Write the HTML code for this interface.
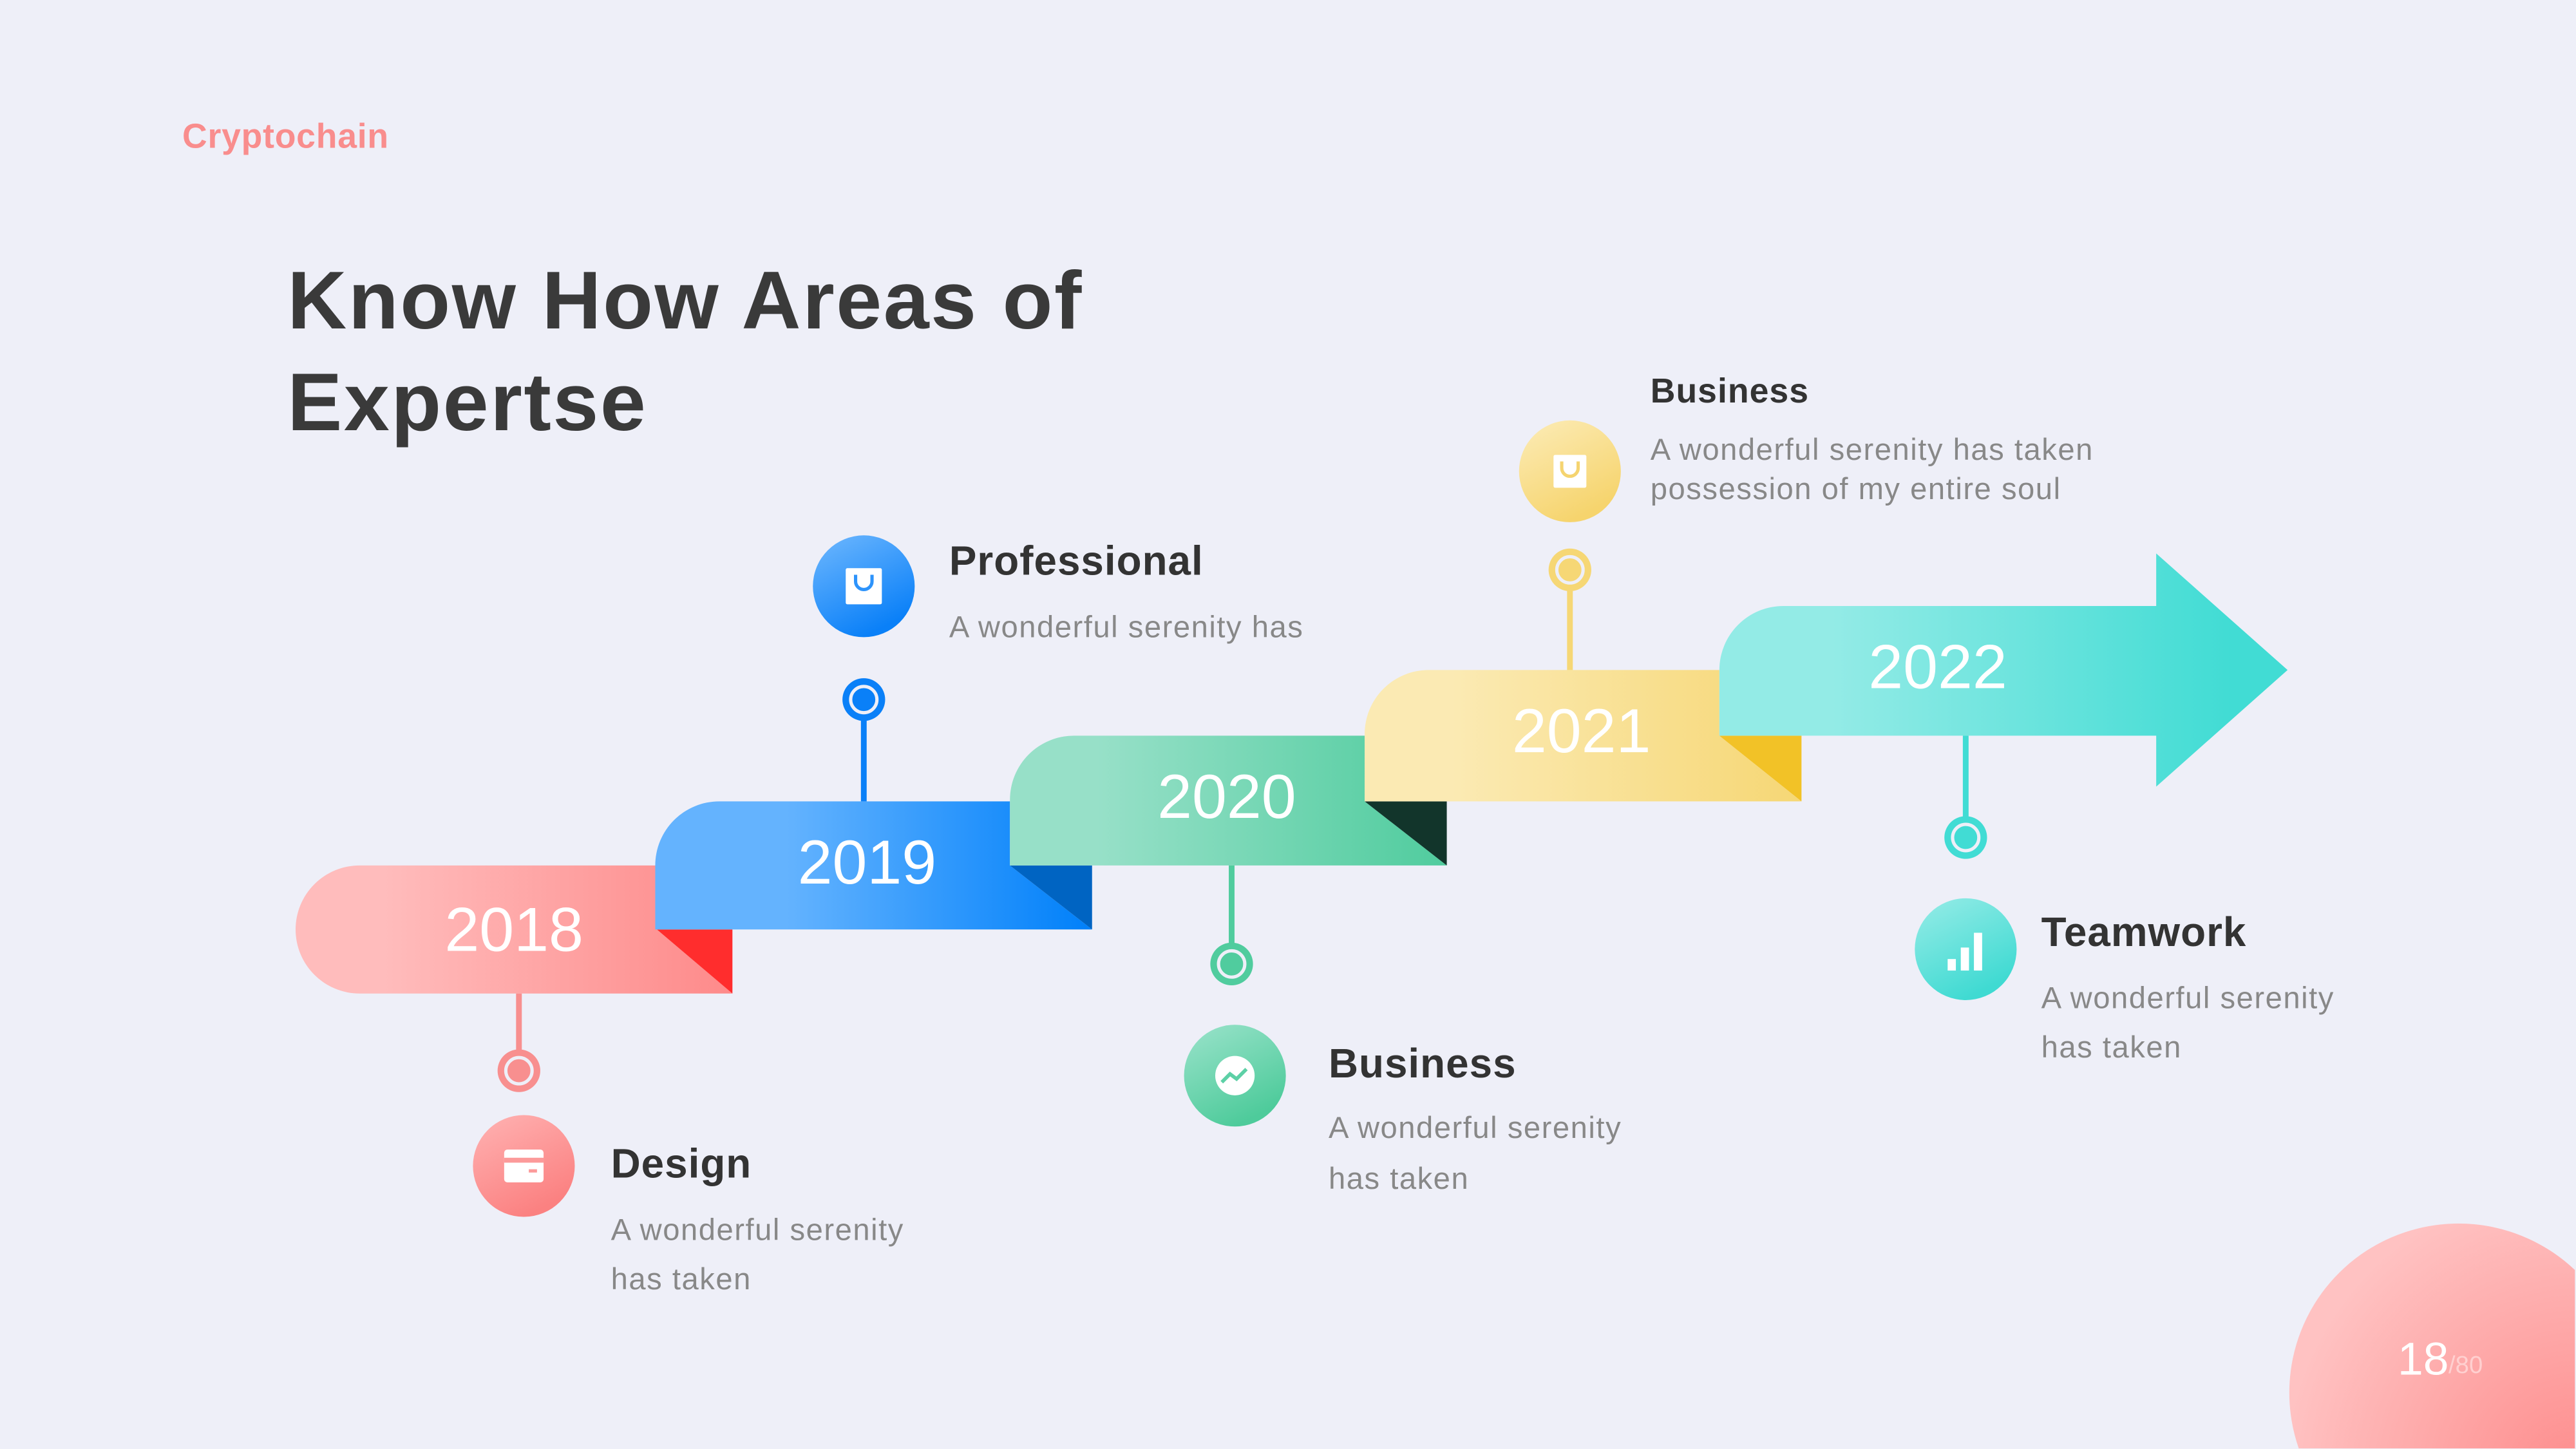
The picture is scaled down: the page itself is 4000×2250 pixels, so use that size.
<!DOCTYPE html>
<html><head><meta charset="utf-8"><style>
html,body{margin:0;padding:0;background:#eeeff8;width:4000px;height:2250px;overflow:hidden;}
#w{width:1568px;height:882px;transform:scale(2.55);transform-origin:0 0;position:absolute;left:0;top:0;overflow:hidden;}
svg{position:absolute;left:0;top:0;display:block}
</style></head><body><div id="w">
<svg width="1568" height="882" viewBox="0 0 1568 882" font-family="Liberation Sans, sans-serif">
<defs>
<linearGradient id="gp" x1="0" x2="1"><stop offset="0.2" stop-color="#ffbcbc"/><stop offset="1" stop-color="#fe8a8a"/></linearGradient>
<linearGradient id="gb" x1="0" x2="1"><stop offset="0.3" stop-color="#64b3fe"/><stop offset="1" stop-color="#0080fa"/></linearGradient>
<linearGradient id="gg" x1="0" x2="1"><stop offset="0.2" stop-color="#97e0c8"/><stop offset="1" stop-color="#50cc9e"/></linearGradient>
<linearGradient id="gy" x1="0" x2="1"><stop offset="0.2" stop-color="#fbeab3"/><stop offset="1" stop-color="#f6d775"/></linearGradient>
<linearGradient id="gt" x1="0" x2="1"><stop offset="0.2" stop-color="#93ebe6"/><stop offset="0.9" stop-color="#41dcd4"/></linearGradient>
<linearGradient id="ip" x1="0" y1="0" x2="0.5" y2="1"><stop offset="0" stop-color="#ffb3b3"/><stop offset="1" stop-color="#fb8181"/></linearGradient>
<linearGradient id="ib" x1="0" y1="0" x2="0.5" y2="1"><stop offset="0" stop-color="#6fb8fe"/><stop offset="1" stop-color="#0a80f8"/></linearGradient>
<linearGradient id="ig" x1="0" y1="0" x2="0.5" y2="1"><stop offset="0" stop-color="#9be3cb"/><stop offset="1" stop-color="#4ecb9b"/></linearGradient>
<linearGradient id="iy" x1="0" y1="0" x2="0.5" y2="1"><stop offset="0" stop-color="#fcecb8"/><stop offset="1" stop-color="#f6d46d"/></linearGradient>
<linearGradient id="it" x1="0" y1="0" x2="0.5" y2="1"><stop offset="0" stop-color="#97ece7"/><stop offset="1" stop-color="#3fdad2"/></linearGradient>
<radialGradient id="big" gradientUnits="userSpaceOnUse" cx="1570" cy="900" r="180"><stop offset="0" stop-color="#fd8c8c"/><stop offset="1" stop-color="#ffc2c2"/></radialGradient>
</defs>

<text x="111" y="90" font-size="21" font-weight="bold" fill="#f98d8d" letter-spacing="0.3">Cryptochain</text>
<text x="175" y="200" font-size="50" font-weight="bold" fill="#3a3a3a" letter-spacing="1">Know How Areas of</text>
<text x="175" y="262" font-size="50" font-weight="bold" fill="#3a3a3a" letter-spacing="1">Expertse</text>

<path d="M219 527 H400 V566 L446 605 H219 A39 39 0 0 1 219 527 Z" fill="url(#gp)"/>
<polygon points="400,566 446,566 446,605" fill="#ff2d2d"/>
<path d="M438 488 H615 V527 L665 566 H399 V527 A39 39 0 0 1 438 488 Z" fill="url(#gb)"/>
<polygon points="615,527 665,527 665,566" fill="#0064c2"/>
<path d="M654 448 H831 V488 L881 527 H615 V487 A39 39 0 0 1 654 448 Z" fill="url(#gg)"/>
<polygon points="831,488 881,488 881,527" fill="#12352b"/>
<path d="M870 408 H1047 V448 L1097 488 H831 V447 A39 39 0 0 1 870 408 Z" fill="url(#gy)"/>
<polygon points="1047,448 1097,448 1097,488" fill="#f2c227"/>
<path d="M1086 369 H1313 V337 L1393 408 L1313 479 V448 H1047 V408 A39 39 0 0 1 1086 369 Z" fill="url(#gt)"/>

<g font-size="38" fill="#fff" text-anchor="middle">
<text x="313" y="579">2018</text>
<text x="528" y="538">2019</text>
<text x="747" y="498">2020</text>
<text x="963" y="458">2021</text>
<text x="1180" y="419">2022</text>
</g>

<g stroke-width="3.5">
<line x1="316" y1="605" x2="316" y2="645" stroke="#f88f8f"/>
<line x1="526" y1="430" x2="526" y2="488" stroke="#0a80f8"/>
<line x1="750" y1="527" x2="750" y2="580" stroke="#50cc9e"/>
<line x1="956" y1="350" x2="956" y2="408" stroke="#f6d775"/>
<line x1="1197" y1="448" x2="1197" y2="503" stroke="#41dcd4"/>
</g>
<g>
<circle cx="316" cy="652" r="13" fill="#f88f8f"/><circle cx="316" cy="652" r="8" fill="#f88f8f" stroke="#eeeff8" stroke-width="2"/>
<circle cx="526" cy="426" r="13" fill="#0a80f8"/><circle cx="526" cy="426" r="8" fill="#0a80f8" stroke="#eeeff8" stroke-width="2"/>
<circle cx="750" cy="587" r="13" fill="#50cc9e"/><circle cx="750" cy="587" r="8" fill="#50cc9e" stroke="#eeeff8" stroke-width="2"/>
<circle cx="956" cy="347" r="13" fill="#f6d775"/><circle cx="956" cy="347" r="8" fill="#f6d775" stroke="#eeeff8" stroke-width="2"/>
<circle cx="1197" cy="510" r="13" fill="#41dcd4"/><circle cx="1197" cy="510" r="8" fill="#41dcd4" stroke="#eeeff8" stroke-width="2"/>
</g>

<circle cx="319" cy="710" r="31" fill="url(#ip)"/>
<rect x="307" y="700" width="24" height="20" rx="2" fill="#fff"/><rect x="307" y="705" width="24" height="3" fill="#fc9a9a"/><rect x="322" y="712" width="5" height="2" fill="#fc9a9a"/>
<circle cx="526" cy="357" r="31" fill="url(#ib)"/>
<rect x="515" y="346" width="22" height="22" rx="1" fill="#fff"/><path d="M521 350 v4 a5 5 0 0 0 10 0 v-4" fill="none" stroke="#2d93fb" stroke-width="2"/>
<circle cx="752" cy="655" r="31" fill="url(#ig)"/>
<circle cx="752" cy="655" r="12" fill="#fff"/><path d="M744 659 l5 -5 l4 3 l6 -6" fill="none" stroke="#5dd0a6" stroke-width="2.2"/>
<circle cx="956" cy="287" r="31" fill="url(#iy)"/>
<rect x="946" y="277" width="20" height="20" rx="1" fill="#fff"/><path d="M951 281 v4 a5 5 0 0 0 10 0 v-4" fill="none" stroke="#f5d470" stroke-width="2"/>
<circle cx="1197" cy="578" r="31" fill="url(#it)"/>
<rect x="1186" y="584" width="5" height="7" fill="#fff"/><rect x="1194" y="577" width="5" height="14" fill="#fff"/><rect x="1202" y="568" width="5" height="23" fill="#fff"/>

<g font-weight="bold" fill="#333" letter-spacing="0.4">
<text x="372" y="717" font-size="25">Design</text>
<text x="578" y="350" font-size="25">Professional</text>
<text x="809" y="656" font-size="25">Business</text>
<text x="1005" y="245" font-size="21">Business</text>
<text x="1243" y="576" font-size="25">Teamwork</text>
</g>
<g fill="#888" font-size="18.5" letter-spacing="0.6">
<text x="372" y="755">A wonderful serenity</text><text x="372" y="785">has taken</text>
<text x="578" y="388">A wonderful serenity has</text>
<text x="809" y="693">A wonderful serenity</text><text x="809" y="724">has taken</text>
<text x="1005" y="280">A wonderful serenity has taken</text><text x="1005" y="304">possession of my entire soul</text>
<text x="1243" y="614">A wonderful serenity</text><text x="1243" y="644">has taken</text>
</g>

<path d="M1399.8 882 A103 103 0 0 1 1568 773.4 L1568 882 Z" fill="url(#big)"/>
<text x="1460" y="837" font-size="28" fill="#fff">18</text>
<text x="1491" y="836" font-size="15" fill="#ffd0d0">/80</text>
</svg>
</div></body></html>
